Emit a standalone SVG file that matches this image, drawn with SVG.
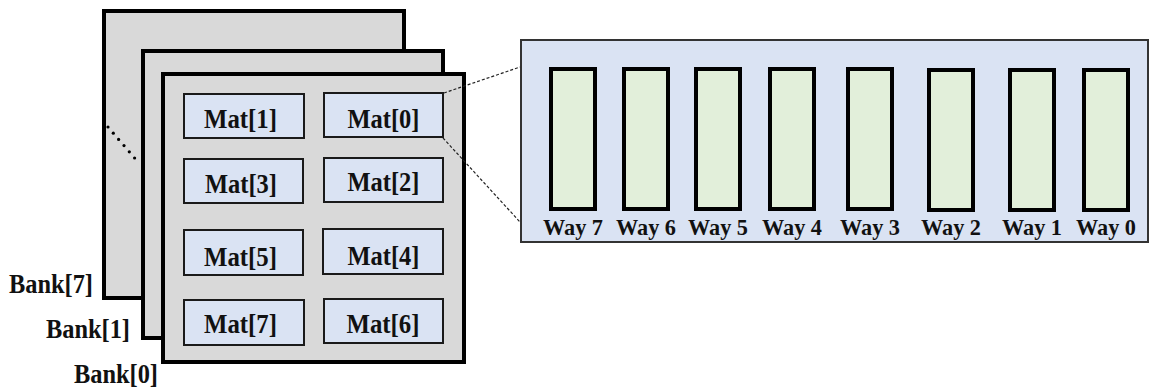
<svg xmlns="http://www.w3.org/2000/svg" width="1151" height="389" viewBox="0 0 1151 389">
  <style>
    .bank { fill: #d9d9d9; stroke: #000; stroke-width: 4; }
    .mat { fill: #dae3f3; stroke: #1a1a1a; stroke-width: 2; }
    .cache { fill: #dae3f3; stroke: #333; stroke-width: 2; }
    .way { fill: #e2efda; stroke: #000; stroke-width: 4; }
    .lbl { font-family: "Liberation Serif", "Times New Roman", serif; font-weight: bold; fill: #111; }
    .mt { font-size: 27px; text-anchor: middle; }
    .bt { font-size: 27px; }
    .wt { font-size: 24px; text-anchor: middle; }
    .link { fill: none; stroke: #222; stroke-width: 1.2; stroke-dasharray: 3 2; }
  </style>

  <!-- stacked banks, back to front -->
  <g id="bank7">
    <rect class="bank" x="104" y="11" width="300" height="287"/>
    <text class="lbl bt" x="9" y="293" textLength="84" lengthAdjust="spacingAndGlyphs">Bank[7]</text>
  </g>
  <g id="bank-dots" fill="#000">
    <circle cx="108" cy="127" r="1.6"/>
    <circle cx="113.3" cy="133.2" r="1.6"/>
    <circle cx="118.6" cy="139.4" r="1.6"/>
    <circle cx="124" cy="145.6" r="1.6"/>
    <circle cx="129.3" cy="151.8" r="1.6"/>
    <circle cx="134.6" cy="158" r="1.6"/>
  </g>
  <g id="bank1">
    <rect class="bank" x="143" y="51" width="300" height="287"/>
    <text class="lbl bt" x="46" y="338" textLength="84" lengthAdjust="spacingAndGlyphs">Bank[1]</text>
  </g>
  <g id="bank0">
    <rect class="bank" x="163" y="74" width="301" height="288"/>
    <text class="lbl bt" x="74" y="383" textLength="84" lengthAdjust="spacingAndGlyphs">Bank[0]</text>
  </g>

  <!-- mats inside bank 0 -->
  <g id="mat1"><rect class="mat" x="184" y="94" width="120" height="44"/><text class="lbl mt" x="240.5" y="128" textLength="73" lengthAdjust="spacingAndGlyphs">Mat[1]</text></g>
  <g id="mat0"><rect class="mat" x="324" y="93" width="119" height="44"/><text class="lbl mt" x="383.5" y="128" textLength="72" lengthAdjust="spacingAndGlyphs">Mat[0]</text></g>
  <g id="mat3"><rect class="mat" x="184" y="159" width="119" height="44"/><text class="lbl mt" x="241" y="193" textLength="72" lengthAdjust="spacingAndGlyphs">Mat[3]</text></g>
  <g id="mat2"><rect class="mat" x="324" y="158" width="119" height="44"/><text class="lbl mt" x="383.5" y="191" textLength="72" lengthAdjust="spacingAndGlyphs">Mat[2]</text></g>
  <g id="mat5"><rect class="mat" x="184" y="230" width="119" height="45"/><text class="lbl mt" x="240.5" y="266" textLength="73" lengthAdjust="spacingAndGlyphs">Mat[5]</text></g>
  <g id="mat4"><rect class="mat" x="323" y="229" width="120" height="45"/><text class="lbl mt" x="383.5" y="265" textLength="72" lengthAdjust="spacingAndGlyphs">Mat[4]</text></g>
  <g id="mat7"><rect class="mat" x="184" y="300" width="120" height="45"/><text class="lbl mt" x="240.5" y="333" textLength="73" lengthAdjust="spacingAndGlyphs">Mat[7]</text></g>
  <g id="mat6"><rect class="mat" x="324" y="299" width="119" height="44"/><text class="lbl mt" x="383" y="333" textLength="73" lengthAdjust="spacingAndGlyphs">Mat[6]</text></g>

  <!-- expanded view of Mat[0] -->
  <g id="mat-detail">
    <rect class="cache" x="521" y="40" width="627" height="202"/>
  </g>
  <g id="way7"><rect class="way" x="551" y="69" width="44" height="140"/><text class="lbl wt" x="573" y="235" textLength="60" lengthAdjust="spacingAndGlyphs">Way 7</text></g>
  <g id="way6"><rect class="way" x="624" y="69" width="44" height="140"/><text class="lbl wt" x="646" y="235" textLength="60" lengthAdjust="spacingAndGlyphs">Way 6</text></g>
  <g id="way5"><rect class="way" x="696" y="69" width="44" height="140"/><text class="lbl wt" x="718" y="235" textLength="60" lengthAdjust="spacingAndGlyphs">Way 5</text></g>
  <g id="way4"><rect class="way" x="770" y="69" width="44" height="140"/><text class="lbl wt" x="792" y="235" textLength="60" lengthAdjust="spacingAndGlyphs">Way 4</text></g>
  <g id="way3"><rect class="way" x="848" y="69" width="44" height="140"/><text class="lbl wt" x="870" y="235" textLength="60" lengthAdjust="spacingAndGlyphs">Way 3</text></g>
  <g id="way2"><rect class="way" x="929" y="70" width="44" height="140"/><text class="lbl wt" x="951" y="235" textLength="60" lengthAdjust="spacingAndGlyphs">Way 2</text></g>
  <g id="way1"><rect class="way" x="1010" y="70" width="44" height="140"/><text class="lbl wt" x="1032" y="235" textLength="60" lengthAdjust="spacingAndGlyphs">Way 1</text></g>
  <g id="way0"><rect class="way" x="1084" y="70" width="44" height="140"/><text class="lbl wt" x="1106" y="235" textLength="60" lengthAdjust="spacingAndGlyphs">Way 0</text></g>

  <!-- zoom connectors -->
  <g id="connectors">
    <line class="link" x1="444" y1="93" x2="520" y2="67"/>
    <line class="link" x1="443" y1="138" x2="520" y2="222"/>
  </g>
</svg>
